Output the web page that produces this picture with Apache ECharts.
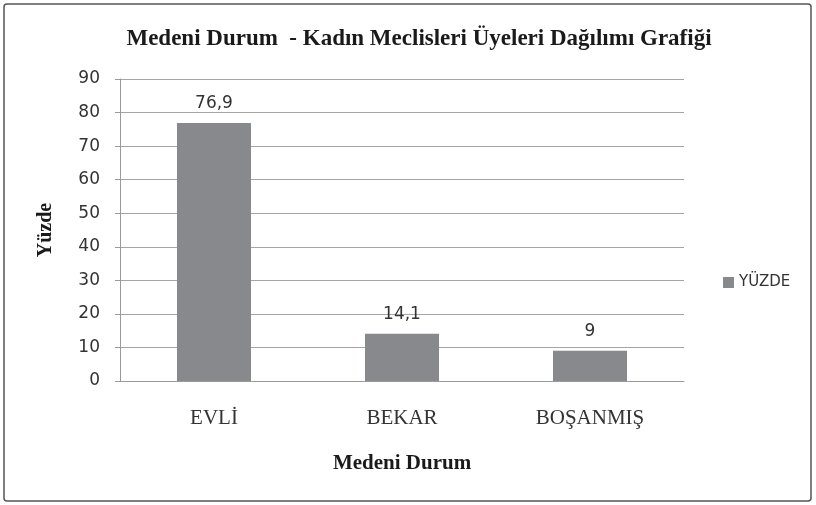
<!DOCTYPE html>
<html><head><meta charset="utf-8">
<script src="https://cdn.jsdelivr.net/npm/echarts@6/dist/echarts.min.js"></script>
<style>html,body{margin:0;padding:0;background:#fff}#c{width:816px;height:505px}</style>
</head><body><div id="c"></div>
<script>
const categories = ['EVLİ', 'BEKAR', 'BOŞANMIŞ'];
const values = [76.9, 14.1, 9];
const labels = ['76,9', '14,1', '9'];
const seriesName = 'YÜZDE';
const chart = echarts.init(document.getElementById('c'), null, {renderer: 'canvas'});
chart.setOption({
  animation: false,
  backgroundColor: '#fff',
  title: {
    text: 'Medeni Durum  - Kadın Meclisleri Üyeleri Dağılımı Grafiği',
    left: 414, top: 23, textAlign: 'center',
    textStyle: {fontFamily: 'Liberation Serif', fontWeight: 'bold', fontSize: 23, color: '#1a1a1a'}
  },
  graphic: [{
    type: 'rect', shape: {x: 4, y: 4, width: 807, height: 497, r: 3},
    style: {fill: 'none', stroke: '#555', lineWidth: 1.5}, silent: true
  }],
  legend: {
    data: [seriesName], left: 718, top: 270, itemWidth: 11, itemHeight: 11, icon: 'rect', itemGap: 6,
    textStyle: {fontFamily: 'DejaVu Sans', fontSize: 15, color: '#333'}
  },
  grid: {left: 120, right: 132, top: 79, bottom: 124, containLabel: false},
  xAxis: {
    type: 'category', data: categories,
    name: 'Medeni Durum', nameLocation: 'middle', nameGap: 72,
    nameTextStyle: {fontFamily: 'Liberation Serif', fontWeight: 'bold', fontSize: 21, color: '#1a1a1a'},
    axisLine: {lineStyle: {color: '#9a9a9a', width: 1}},
    axisTick: {show: false},
    axisLabel: {fontFamily: 'Liberation Serif', fontSize: 21, color: '#333', margin: 27}
  },
  yAxis: {
    type: 'value', min: 0, max: 90, interval: 10,
    name: 'Yüzde', nameLocation: 'middle', nameGap: 64, nameRotate: 90,
    nameTextStyle: {fontFamily: 'Liberation Serif', fontWeight: 'bold', fontSize: 20, color: '#1a1a1a'},
    axisLine: {show: true, lineStyle: {color: '#9a9a9a', width: 1}},
    axisTick: {show: true, length: 5, lineStyle: {color: '#9a9a9a'}},
    splitLine: {lineStyle: {color: '#a5a5a5', width: 1}},
    axisLabel: {fontFamily: 'DejaVu Sans', fontSize: 17, color: '#333', margin: 20}
  },
  series: [{
    name: seriesName, type: 'bar', data: values, barWidth: 74,
    itemStyle: {color: '#88898c'},
    label: {show: true, position: 'top', distance: 11, fontFamily: 'DejaVu Sans', fontSize: 17, color: '#333',
      formatter: p => labels[p.dataIndex]}
  }]
});
</script></body></html>
